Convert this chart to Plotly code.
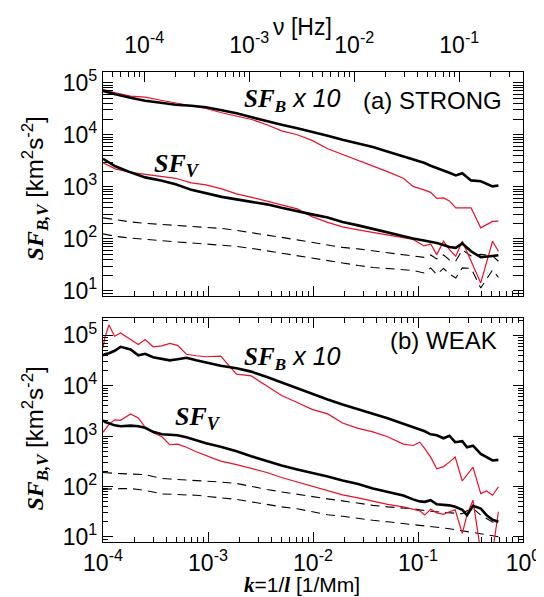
import plotly.graph_objects as go

# ---------------- data: panel (a) STRONG ----------------
k_a = [1.00e-4, 1.31e-4, 1.83e-4, 2.52e-4, 3.56e-4, 4.92e-4, 6.94e-4, 9.57e-4, 1.35e-3, 1.87e-3,
       2.61e-3, 3.64e-3, 5.02e-3, 7.08e-3, 9.79e-3, 1.38e-2, 1.91e-2, 2.69e-2, 3.72e-2, 5.19e-2,
       7.24e-2, 8.98e-2, 0.114, 0.132, 0.151, 0.175, 0.199, 0.229, 0.264, 0.320, 0.396, 0.513, 0.583]
sfb_black_a = [7.0e4, 6.0e4, 5.15e4, 4.5e4, 4.12e4, 3.78e4, 3.61e4, 3.38e4, 2.96e4, 2.59e4,
               2.17e4, 1.82e4, 1.56e4, 1.33e4, 1.14e4, 9.6e3, 8.0e3, 6.9e3, 5.8e3, 4.7e3,
               3.86e3, 3.38e3, 2.9e3, 2.54e3, 2.32e3, 2.08e3, 1.86e3, 1.66e3, 1.82e3, 1.33e3,
               1.28e3, 1.02e3, 1.06e3]
sfb_red_a = [7.5e4, 6.42e4, 5.55e4, 5.3e4, 4.6e4, 4.12e4, 3.69e4, 3.2e4, 2.65e4, 2.27e4,
             1.97e4, 1.56e4, 1.19e4, 1.0e4, 7.8e3, 5.4e3, 4.2e3, 3.3e3, 2.48e3, 1.94e3,
             1.46e3, 1.02e3, 875, 783, 601, 614, 538, 395, 395, 395, 163, 217, 219]
sfv_black_a = [3.45e3, 2.48e3, 1.9e3, 1.52e3, 1.33e3, 1.12e3, 875, 750, 642, 575,
               515, 461, 395, 338, 296, 259, 212, 182, 156, 133,
               112, 102, 93.6, 89.6, 83.8, 76.7, 70.2, 67.2, 81.9, 57.9, 44.5, 47.1, 48.6]
sfv_red_a = [2.9e3, 2.22e3, 1.9e3, 1.74e3, 1.63e3, 1.46e3, 1.19e3, 1.09e3, 915, 733,
             629, 538, 451, 378, 268, 208, 170, 149, 133, 119,
             107, 97.8, 73.3, 80.1, 49.9, 90.3, 62.2, 46.5, 90.3, 37.2, 14.3, 90.3, 58]
dash1_a = [254, 232, 212, 199, 190, 182, 174, 166, 159, 146,
           130, 119, 107, 95.7, 85.7, 75, 68.7, 64.3, 58.8, 53.8,
           50.4, 47.1, 44.1, 49.2, 41.2, 49.2, 39.4, 37.7, 61.4, 47.1, 50.4, 47.1, 37.2]
dash2_a = [125, 112, 104, 97.8, 91.5, 87.6, 83.8, 80.1, 76.7, 71.8,
           65.7, 58.8, 52.6, 47.1, 42.2, 37.7, 33.8, 30.9, 28.3, 27.1,
           25.9, 24.8, 22.2, 27.7, 20.8, 27.1, 21.2, 17.8, 27.7, 27.1, 11.4, 25.3, 18.2]

# ---------------- data: panel (b) WEAK ----------------
k_b = [1.00e-4, 1.04e-4, 1.14e-4, 1.29e-4, 1.47e-4, 1.83e-4, 2.17e-4, 2.52e-4, 3.00e-4, 3.64e-4,
       4.32e-4, 5.13e-4, 6.23e-4, 7.72e-4, 9.57e-4, 1.32e-3, 1.87e-3, 2.58e-3, 3.64e-3, 5.02e-3,
       7.08e-3, 9.79e-3, 1.38e-2, 1.91e-2, 2.69e-2, 3.72e-2, 5.13e-2, 7.24e-2, 8.98e-2, 0.104,
       0.116, 0.132, 0.151, 0.175, 0.199, 0.226, 0.264, 0.293, 0.334, 0.396, 0.451, 0.513, 0.583]
sfb_black_b = [4.03e4, 4.22e4, 4.42e4, 4.95e4, 5.93e4, 5.25e4, 4.03e4, 4.32e4, 3.68e4, 3.36e4,
               3.19e4, 3.36e4, 3.60e4, 3.21e4, 2.87e4, 2.50e4, 2.23e4, 1.91e4, 1.49e4, 1.16e4,
               8.81e3, 7.02e3, 5.35e3, 4.26e3, 3.40e3, 2.83e3, 2.26e3, 1.76e3, 1.50e3, 1.34e3,
               1.25e3, 1.09e3, 1.04e3, 910, 1.02e3, 759, 794, 604, 647, 446, 384, 330, 339]
sfb_red_b = [5.67e4, 8.93e4, 1.61e5, 9.64e4, 1.12e5, 8.26e4, 6.59e4, 8.26e4, 5.93e4, 6.21e4,
             6.95e4, 6.35e4, 4.22e4, 3.94e4, 3.77e4, 3.89e4, 1.70e4, 1.57e4, 9.86e3, 6.41e3,
             4.67e3, 3.40e3, 2.77e3, 1.83e3, 1.43e3, 1.22e3, 973, 695, 653, 759,
             564, 384, 225, 249, 305, 384, 129, 169, 244, 72.4, 81.8, 67.3, 98.2]
sfv_black_b = [2.06e3, 1.92e3, 1.80e3, 1.64e3, 1.57e3, 1.62e3, 1.57e3, 1.47e3, 1.22e3, 1.09e3,
               1.07e3, 1.04e3, 951, 830, 724, 618, 504, 401, 320, 261,
               219, 190, 158, 132, 112, 91.8, 78.2, 66.7, 55.7, 50.8,
               49.7, 53.7, 44.4, 43.4, 42.4, 39.6, 34.5, 27.2, 41.4, 36.6, 26.9, 21.9, 20.0]
sfv_red_b = [1.19e3, 1.31e3, 1.72e3, 2.11e3, 2.06e3, 2.77e3, 2.31e3, 1.50e3, 1.17e3, 973,
             676, 692, 604, 492, 420, 320, 273, 228, 190, 151,
             123, 98.2, 80.0, 68.2, 59.6, 50.8, 44.4, 39.6, 36.2, 33.0,
             27.2, 35.3, 30.1, 28.2, 31.6, 34.5, 11.8, 27.5, 53.7, 5, 5, 5, 31.6]
dash1_b = [190, 188, 185, 183, 181, 180, 177, 173, 158, 145,
           141, 138, 135, 133, 129, 123, 115, 100, 87.7, 78.3,
           69.8, 62.4, 56.9, 52.0, 46.5, 42.4, 39.6, 37.8, 36.2, 34.5,
           33.0, 32.3, 31.6, 30.9, 30.1, 29.2, 28.8, 33.0, 36.6, 27.2, 23.0, 20.0, 16.8]
dash2_b = [87.7, 87.7, 89.7, 90.5, 90.9, 90.9, 87.7, 83.8, 78.3, 71.5,
           69.8, 68.2, 68.2, 67.4, 63.8, 59.6, 55.7, 49.7, 44.4, 39.6,
           36.2, 31.6, 27.5, 25.7, 23.0, 21.4, 20.0, 18.5, 17.9, 17.1,
           16.7, 16.3, 16.0, 15.3, 14.6, 13.9, 13.3, 12.7, 12.2, 11.6, 11.1, 10.6, 10.1]

# ---------------- tick labels ----------------
k_ticks = [1e-4, 1e-3, 1e-2, 1e-1, 1]
k_ticktext = ["10<sup>-4</sup>", "10<sup>-3</sup>", "10<sup>-2</sup>", "10<sup>-1</sup>", "10<sup>0</sup>"]
nu_ticks = [1e-4, 1e-3, 1e-2, 1e-1]
nu_ticktext = ["10<sup>-4</sup>", "10<sup>-3</sup>", "10<sup>-2</sup>", "10<sup>-1</sup>"]
sf_ticks = [1e1, 1e2, 1e3, 1e4, 1e5]
sf_ticktext = ["10<sup>1</sup>", "10<sup>2</sup>", "10<sup>3</sup>", "10<sup>4</sup>", "10<sup>5</sup>"]

RED = "#e8102a"
SANS = "Liberation Sans, Arial, Helvetica, sans-serif"
SERIF = "Liberation Serif"


def minor_vals(lo, hi):
    out = []
    for e in range(lo, hi):
        for m in range(2, 10):
            out.append(m * 10.0 ** e)
    return out


fig = go.Figure()


def add_panel(k, bb, br, vb, vr, d1, d2, xa, ya):
    for y, col, w, dash in [(d1, "black", 1.1, "9px,6px"), (d2, "black", 1.1, "9px,6px"),
                            (br, RED, 1.2, "solid"), (vr, RED, 1.2, "solid"),
                            (bb, "black", 2.6, "solid"), (vb, "black", 2.6, "solid")]:
        fig.add_trace(go.Scatter(x=k, y=y, mode="lines", xaxis=xa, yaxis=ya,
                                 line=dict(color=col, width=w, dash=dash),
                                 showlegend=False, hoverinfo="skip"))


add_panel(k_a, sfb_black_a, sfb_red_a, sfv_black_a, sfv_red_a, dash1_a, dash2_a, "x2", "y2")
add_panel(k_b, sfb_black_b, sfb_red_b, sfv_black_b, sfv_red_b, dash1_b, dash2_b, "x", "y")
# invisible anchor trace for the frequency axis
fig.add_trace(go.Scatter(x=[1e-3], y=[100], xaxis="x3", yaxis="y2", mode="markers",
                         marker=dict(opacity=0), showlegend=False, hoverinfo="skip"))

tickfont = dict(family=SANS, size=23, color="black")
common_x = dict(type="log", range=[-4, 0], tickmode="array", tickvals=k_ticks,
                ticks="inside", ticklen=10, tickwidth=1, tickcolor="black",
                showline=True, linecolor="black", linewidth=1.3, showgrid=False, zeroline=False,
                minor=dict(tickmode="array", tickvals=minor_vals(-4, 0), ticks="inside",
                           ticklen=5, tickcolor="black", showgrid=False))
common_y = dict(type="log", tickmode="array", tickvals=sf_ticks, ticktext=sf_ticktext,
                ticks="inside", ticklen=10, tickwidth=1, tickcolor="black",
                showline=True, linecolor="black", linewidth=1.3, showgrid=False, zeroline=False,
                mirror="allticks", tickfont=tickfont,
                minor=dict(tickmode="array", tickvals=minor_vals(0, 6), ticks="inside",
                           ticklen=5, tickcolor="black", showgrid=False))

fig.update_layout(
    width=544, height=597,
    margin=dict(l=95, r=21, t=64, b=63),
    plot_bgcolor="white", paper_bgcolor="white",
    font=dict(family=SANS, size=22, color="black"),
    xaxis=dict(**common_x, anchor="y", ticktext=k_ticktext, tickfont=tickfont, mirror="allticks"),
    yaxis=dict(**common_y, domain=[0, 0.4766], anchor="x", range=[0.9, 5.345]),
    xaxis2=dict(**common_x, anchor="y2", showticklabels=False, mirror=False),
    yaxis2=dict(**common_y, domain=[0.5228, 1], anchor="x2", range=[0.898, 5.206]),
    xaxis3=dict(type="log", range=[-4.393, -0.393], overlaying="x2", side="top", anchor="y2",
                tickmode="array", tickvals=nu_ticks, ticktext=nu_ticktext, tickfont=tickfont,
                ticklabelstandoff=9,
                ticks="inside", ticklen=10, tickcolor="black", showline=True, linecolor="black",
                linewidth=1.3, showgrid=False, zeroline=False,
                minor=dict(tickmode="array", tickvals=minor_vals(-5, 0), ticks="inside",
                           ticklen=5, tickcolor="black", showgrid=False)),
)

sf_b = ('<span style="font-family:%s"><b><i>SF<sub>B</sub></i></b></span><i> x 10</i>' % SERIF)
sf_v = ('<span style="font-family:%s"><b><i>SF<sub>V</sub></i></b></span>' % SERIF)
ytitle = ('<span style="font-family:%s"><b><i>SF<sub>B,V</sub></i></b></span> '
          '[km<sup>2</sup>s<sup>-2</sup>]' % SERIF)
xtitle = ('<span style="font-family:%s"><b><i>k</i></b></span>=1/'
          '<span style="font-family:%s"><b><i>l</i></b></span> [1/Mm]' % (SERIF, SERIF))

ann = [
    dict(text=sf_b, x=0.332, y=0.940, xanchor="left", yanchor="middle", font=dict(size=25)),
    dict(text="(a) STRONG", x=0.955, y=0.940, xanchor="right", yanchor="middle", font=dict(size=24)),
    dict(text=sf_v, x=0.175, y=0.802, xanchor="center", yanchor="middle", font=dict(size=26)),
    dict(text=sf_b, x=0.332, y=0.391, xanchor="left", yanchor="middle", font=dict(size=25)),
    dict(text="(b) WEAK", x=0.942, y=0.428, xanchor="right", yanchor="middle", font=dict(size=24)),
    dict(text=sf_v, x=0.227, y=0.264, xanchor="center", yanchor="middle", font=dict(size=26)),
    dict(text=ytitle, x=-0.161, y=0.753, textangle=-90, xanchor="center", yanchor="middle", font=dict(size=24)),
    dict(text=ytitle, x=-0.161, y=0.221, textangle=-90, xanchor="center", yanchor="middle", font=dict(size=24)),
    dict(text="ν [Hz]", x=0.474, y=1.096, xanchor="center", yanchor="middle", font=dict(size=23)),
    dict(text=xtitle, x=0.474, y=-0.091, xanchor="center", yanchor="middle", font=dict(size=21)),
]
for a in ann:
    a.update(xref="paper", yref="paper", showarrow=False)
fig.update_layout(annotations=ann)

fig.write_html("out.html")
